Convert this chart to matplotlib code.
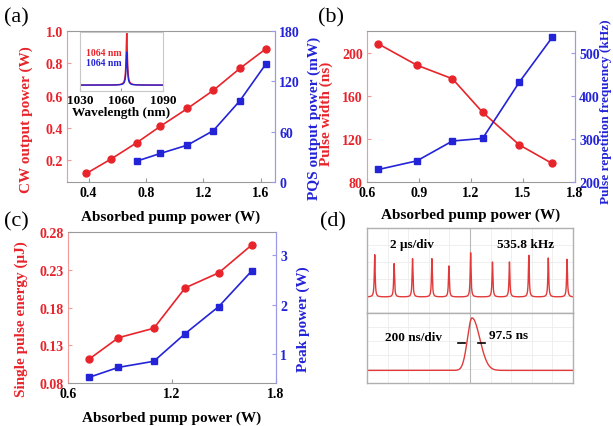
import numpy as np
import matplotlib
matplotlib.use("Agg")
import matplotlib.pyplot as plt

plt.rcParams['font.family'] = ['Liberation Serif', 'DejaVu Serif']
plt.rcParams['font.weight'] = 'bold'
plt.rcParams['mathtext.default'] = 'regular'

RED = '#e8242b'
BLUE = '#2323d8'
RSPINE = '#f09a9a'
BSPINE = '#9a9ae8'
GSPINE = '#9a9a9a'

# ---------------- data ----------------
# (a) CW output power and PQS output power
a_pump_cw = [0.385, 0.56, 0.735, 0.90, 1.09, 1.27, 1.455, 1.637]
a_cw_power = [0.117, 0.208, 0.307, 0.409, 0.520, 0.632, 0.768, 0.890]
a_pump_pqs = [0.735, 0.90, 1.09, 1.27, 1.455, 1.637]
a_pqs_power = [24.8, 34.0, 44.0, 61.2, 96.8, 140.8]
# inset spectrum
inset_center = 1063.8
inset_red_peak = 1.0
inset_blue_peak = 0.66
inset_base = 0.10
inset_hwhm = 0.55

# (b) pulse width and repetition rate
b_pump = [0.666, 0.888, 1.093, 1.267, 1.478, 1.668]
b_width = [208.0, 188.3, 175.7, 144.6, 114.5, 97.2]
b_freq = [229, 249, 295, 301, 431, 535]

# (c) single pulse energy and peak power
c_pump = [0.724, 0.891, 1.095, 1.276, 1.47, 1.661]
c_energy = [0.112, 0.140, 0.1525, 0.206, 0.226, 0.263]
c_peak = [0.537, 0.735, 0.857, 1.415, 1.96, 2.68]

# (d) oscilloscope traces
d_pulse_t = [0.75, 2.63, 4.42, 6.30, 7.95, 10.06, 12.18, 13.83, 15.71, 17.60, 19.42]  # us
d_pulse_h = [0.686, 0.58, 0.639, 0.639, 0.553, 0.71, 0.60, 0.60, 0.678, 0.647, 0.631]
d_top_base = 0.188
d_single_center = 1.02  # us
d_single_peak = 0.93
d_bot_base = 0.18

W, H = 613, 427
fig = plt.figure(figsize=(W / 100, H / 100), dpi=100)


def rect(l, t, r, b):
    return [l / W, 1 - b / H, (r - l) / W, (b - t) / H]


def style_twin(ax, ax2):
    ax.spines['left'].set_color(RSPINE)
    ax.spines['right'].set_color(BSPINE)
    ax.spines['top'].set_color(GSPINE)
    ax.spines['bottom'].set_color(GSPINE)
    for s in ax2.spines.values():
        s.set_visible(False)
    ax2.spines['right'].set_visible(True)
    ax2.spines['right'].set_color(BSPINE)
    ax.tick_params(axis='y', direction='in', length=3, color=RSPINE, labelcolor=RED,
                   labelsize=10, pad=3)
    ax2.tick_params(axis='y', direction='in', length=3, color=BSPINE, labelcolor=BLUE,
                    labelsize=10, pad=3)
    ax.tick_params(axis='x', direction='in', length=3, color=GSPINE, labelcolor='black',
                   labelsize=10, pad=3)
    for lab in ax.get_xticklabels() + ax.get_yticklabels() + ax2.get_yticklabels():
        lab.set_fontweight('bold')


LW = 1.2
MS = 5

# ---------------- (a) ----------------
axa = fig.add_axes(rect(67, 32, 275, 183))
axa2 = axa.twinx()
axa.plot(a_pump_cw, a_cw_power, '-o', color=RED, lw=LW, ms=MS, zorder=3)
axa2.plot(a_pump_pqs, a_pqs_power, '-s', color=BLUE, lw=LW, ms=MS, zorder=3)
axa.set_xlim(0.25, 1.7)
axa.set_ylim(0.064, 1.0)
axa2.set_ylim(0, 180)
axa.set_xticks([0.4, 0.8, 1.2, 1.6])
axa.set_yticks([0.2, 0.4, 0.6, 0.8, 1.0])
axa2.set_yticks([0, 60, 120, 180])
style_twin(axa, axa2)
axa.set_xlabel('Absorbed pump power (W)', fontsize=11, fontweight='bold')
axa.xaxis.set_label_coords(0.5, -0.18)
axa.set_ylabel('CW output power (W)', fontsize=11, fontweight='bold', color=RED)
axa.yaxis.set_label_coords(-0.163, 0.42)
axa2.set_ylabel('PQS output power (mW)', fontsize=11, fontweight='bold', color=BLUE)
axa2.yaxis.set_label_coords(1.154, 0.43)

# inset
axi = fig.add_axes(rect(80, 33, 163, 92))
wl = np.linspace(1030, 1090, 1200)
lor = 1.0 / (1.0 + ((wl - inset_center) / inset_hwhm) ** 2)
axi.plot(wl, inset_base + (inset_red_peak - inset_base) * lor, color=RED, lw=1.0)
axi.plot(wl, inset_base + (inset_blue_peak - inset_base) * lor, color=BLUE, lw=1.0)
axi.set_xlim(1030, 1090)
axi.set_ylim(0, 1.0)
axi.set_xticks([1030, 1060, 1090])
axi.set_yticks([])
axi.tick_params(axis='x', direction='in', length=2, labelsize=9.5, pad=2, color=GSPINE)
for lab in axi.get_xticklabels():
    lab.set_fontweight('bold')
for s in axi.spines.values():
    s.set_color('#c8c8c8')
axi.set_xlabel('Wavelength (nm)', fontsize=9.5, fontweight='bold', labelpad=0)
axi.text(0.07, 0.66, '1064 nm', color=RED, fontsize=7, fontweight='bold',
         transform=axi.transAxes, va='center')
axi.text(0.07, 0.49, '1064 nm', color=BLUE, fontsize=7, fontweight='bold',
         transform=axi.transAxes, va='center')

# ---------------- (b) ----------------
axb = fig.add_axes(rect(367, 32, 575, 183))
axb2 = axb.twinx()
axb.plot(b_pump, b_width, '-o', color=RED, lw=LW, ms=MS, zorder=3)
axb2.plot(b_pump, b_freq, '-s', color=BLUE, lw=LW, ms=MS, zorder=3)
axb.set_xlim(0.6, 1.8)
axb.set_ylim(80, 220)
axb2.set_ylim(200, 550)
axb.set_xticks([0.6, 0.9, 1.2, 1.5, 1.8])
axb.set_yticks([80, 120, 160, 200])
axb2.set_yticks([200, 300, 400, 500])
style_twin(axb, axb2)
axb.set_xlabel('Absorbed pump power (W)', fontsize=11, fontweight='bold')
axb.xaxis.set_label_coords(0.5, -0.17)
axb.set_ylabel('Pulse width (ns)', fontsize=11, fontweight='bold', color=RED)
axb.yaxis.set_label_coords(-0.165, 0.46)
axb2.set_ylabel('Pulse repetition frequency (kHz)', fontsize=9.5, fontweight='bold', color=BLUE)
axb2.yaxis.set_label_coords(1.12, 0.47)

# ---------------- (c) ----------------
axc = fig.add_axes(rect(68, 233, 276, 384))
axc2 = axc.twinx()
axc.plot(c_pump, c_energy, '-o', color=RED, lw=LW, ms=MS, zorder=3)
axc2.plot(c_pump, c_peak, '-s', color=BLUE, lw=LW, ms=MS, zorder=3)
axc.set_xlim(0.6, 1.8)
axc.set_ylim(0.08, 0.28)
axc2.set_ylim(0.42, 3.46)
axc.set_xticks([0.6, 1.2, 1.8])
axc.set_yticks([0.08, 0.13, 0.18, 0.23, 0.28])
axc2.set_yticks([1, 2, 3])
style_twin(axc, axc2)
axc.set_xlabel('Absorbed pump power (W)', fontsize=11, fontweight='bold')
axc.xaxis.set_label_coords(0.5, -0.185)
axc.set_ylabel('Single pulse energy (μJ)', fontsize=11, fontweight='bold', color=RED)
axc.yaxis.set_label_coords(-0.19, 0.43)
axc2.set_ylabel('Peak power (W)', fontsize=11, fontweight='bold', color=BLUE)
axc2.yaxis.set_label_coords(1.10, 0.43)

# ---------------- (d) ----------------
TRACE = '#e23a3a'
axdt = fig.add_axes(rect(367, 229, 573, 314))
axdb = fig.add_axes(rect(367, 314, 573, 384))
for ax in (axdt, axdb):
    ax.set_xticks([])
    ax.set_yticks([])
    for s in ax.spines.values():
        s.set_color('#b0b0b0')
        s.set_linewidth(1.0)
    ax.set_ylim(0, 1)

# top trace: 2 us/div, 10 div
t = np.linspace(0, 20, 4000)
y = np.full_like(t, d_top_base)
for tc, h in zip(d_pulse_t, d_pulse_h):
    y += (h - d_top_base) / (1 + ((t - tc) / 0.05) ** 2)
axdt.set_xlim(0, 20)
for gx in np.arange(2, 20, 2):
    axdt.axvline(gx, color='#ececec', lw=0.6, zorder=0)
for gy in np.arange(0.2, 1.0, 0.2):
    axdt.axhline(gy, color='#ececec', lw=0.6, zorder=0)
axdt.axvline(10, color='#b8b8b8', lw=0.8, zorder=1)
axdt.plot(t, y, color=TRACE, lw=1.0, zorder=2)
axdt.text(0.11, 0.815, '2 μs/div', transform=axdt.transAxes, fontsize=9.5,
          fontweight='bold', va='center')
axdt.text(0.63, 0.815, '535.8 kHz', transform=axdt.transAxes, fontsize=9.5,
          fontweight='bold', va='center')

# bottom trace: 200 ns/div -> 2 us span
tb = np.linspace(0, 2, 3000)
dt = tb - d_single_center
sig = np.where(dt < 0, 0.045, 0.075)
yb = d_bot_base + (d_single_peak - d_bot_base) * np.exp(-0.5 * (dt / sig) ** 2)
axdb.set_xlim(0, 2)
for gx in np.arange(0.2, 2.0, 0.2):
    axdb.axvline(gx, color='#ececec', lw=0.6, zorder=0)
for gy in np.arange(0.2, 1.0, 0.2):
    axdb.axhline(gy, color='#ececec', lw=0.6, zorder=0)
axdb.axvline(1.0, color='#b8b8b8', lw=0.8, zorder=1)
axdb.plot(tb, yb, color=TRACE, lw=1.0, zorder=2)
axdb.text(0.086, 0.657, '200 ns/div', transform=axdb.transAxes, fontsize=9.5,
          fontweight='bold', va='center')
axdb.text(0.59, 0.68, '97.5 ns', transform=axdb.transAxes, fontsize=9.5,
          fontweight='bold', va='center')
axdb.plot([0.44, 0.475], [0.57, 0.57], color='black', lw=1.2, transform=axdb.transAxes)
axdb.plot([0.537, 0.572], [0.57, 0.57], color='black', lw=1.2, transform=axdb.transAxes)

# panel labels
for txt, x, y in [('(a)', 4, 18), ('(b)', 318, 18), ('(c)', 4, 222), ('(d)', 320, 222)]:
    fig.text(x / W, 1 - y / H, txt, fontsize=16, fontweight='normal', va='center', ha='left')

fig.savefig('out.png', dpi=100)
